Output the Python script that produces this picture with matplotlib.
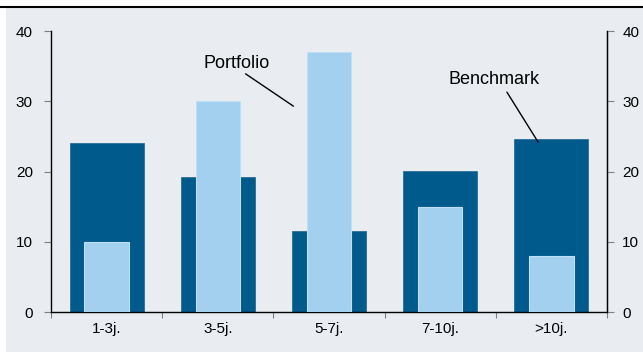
import matplotlib.pyplot as plt
import matplotlib.patches as patches
import numpy as np

plt.rcParams['font.family'] = ['Liberation Sans', 'DejaVu Sans']

kategorie = ['1-3j.', '3-5j.', '5-7j.', '7-10j.', '>10j.']
benchmark = [24.1, 19.2, 11.5, 20.1, 24.6]
portfolio = [10.0, 30.0, 37.0, 15.0, 8.0]
y_ticks = [0, 10, 20, 30, 40]

ciemny = '#005a8c'
jasny = '#a2d0ee'
tlo = '#e9edf1'

fig = plt.figure(figsize=(6.43, 3.53), dpi=100, facecolor='white')
# szare tlo + linia na gorze
fig.patches.append(patches.Rectangle((6/643, 1/353), 1, 344/353, transform=fig.transFigure,
                                     facecolor=tlo, edgecolor='none', zorder=-10))
fig.add_artist(plt.Line2D([0, 1], [346/353, 346/353], transform=fig.transFigure,
                          color='black', lw=1.5, zorder=-5))

ax = fig.add_axes([51/643, 41/353, 556/643, 281/353])
ax.set_facecolor('none')
x = np.arange(len(kategorie))
ax.bar(x, benchmark, width=0.665, color=ciemny, edgecolor='#2a6f98', lw=0.6, zorder=2)
ax.bar(x, portfolio, width=0.40, color=jasny, edgecolor='#bfe0f4', lw=0.8, zorder=3)

ax.set_xlim(-0.5, len(kategorie) - 0.5)
ax.set_ylim(0, 40)
ax.set_yticks(y_ticks)
ax.set_xticks(x)
ax.set_xticklabels(kategorie)
ax.set_xticks(np.arange(len(kategorie) + 1) - 0.5, minor=True)
ax.tick_params(axis='x', which='major', length=0, pad=7, labelsize=11)
ax.tick_params(axis='x', which='minor', length=4, color='#808080', width=0.8)
ax.tick_params(axis='y', length=5, color='#808080', width=0.8, pad=8, labelsize=11)
ax.spines['top'].set_visible(False)
ax.spines['left'].set_linewidth(1.0)
ax.spines['bottom'].set_linewidth(1.0)
ax.spines['right'].set_linewidth(1.0)

ax2 = ax.twinx()
ax2.set_ylim(0, 40)
ax2.set_yticks(y_ticks)
ax2.tick_params(axis='y', length=5, color='#808080', width=0.8, pad=6, labelsize=11)
ax2.spines['top'].set_visible(False)
ax2.spines['left'].set_visible(False)
ax2.spines['bottom'].set_visible(False)

# opisy serii
ax.text(1.17, 35.4, 'Portfolio', fontsize=13, ha='center', va='center', zorder=5)
ax.annotate('', xy=(1.68, 29.3), xytext=(1.25, 33.9),
            arrowprops=dict(arrowstyle='-', color='black', lw=1, shrinkA=0, shrinkB=0))
ax.text(3.48, 33.1, 'Benchmark', fontsize=13, ha='center', va='center', zorder=5)
ax.annotate('', xy=(3.88, 24.2), xytext=(3.60, 31.3),
            arrowprops=dict(arrowstyle='-', color='black', lw=1, shrinkA=0, shrinkB=0), zorder=5)

fig.savefig('out.png', dpi=100, facecolor='white')
